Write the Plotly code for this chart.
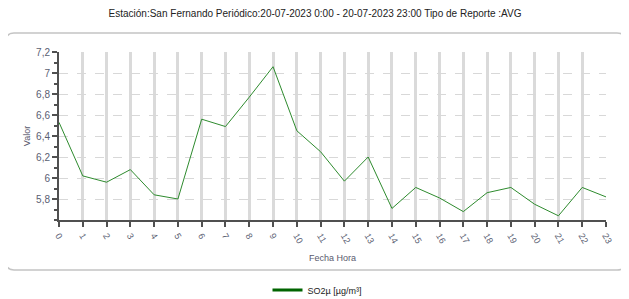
import plotly.graph_objects as go

hours = list(range(24))
so2_values = [6.53, 6.02, 5.96, 6.08, 5.84, 5.80, 6.56, 6.49, 6.77, 7.06, 6.45, 6.25,
              5.97, 6.20, 5.71, 5.91, 5.81, 5.68, 5.86, 5.91, 5.75, 5.64, 5.91, 5.82]
y_tick_values = [5.8, 6.0, 6.2, 6.4, 6.6, 6.8, 7.0, 7.2]
y_tick_labels = ["5,8", "6", "6,2", "6,4", "6,6", "6,8", "7", "7,2"]
x_tick_labels = [str(h) for h in hours]
series_name = "SO2µ [µg/m³]"
title_text = "Estación:San Fernando Periódico:20-07-2023 0:00 - 20-07-2023 23:00 Tipo de Reporte :AVG"

OFF = 8  # page body margin
W, H = 629 - OFF, 299 - OFF
L, R, T, B = 59 - OFF, 606 - OFF, 52 - OFF, 220 - OFF

def px(x):
    return (x - OFF - L) / (R - L)

def py(y):
    return (B - (y - OFF)) / (B - T)

fig = go.Figure()
fig.add_trace(go.Scatter(x=hours, y=so2_values, mode="lines",
                         line=dict(color="#2e8b2e", width=1), showlegend=False))
fig.add_trace(go.Scatter(x=[None], y=[None], mode="lines", name=series_name,
                         line=dict(color="#006400", width=3), showlegend=True))

# rounded frame (reference pixel coords)
x0, x1, y0, y1, r = 6, 625, 33, 270, 8
path = (f"M {px(x0+r)},{py(y0)} L {px(x1-r)},{py(y0)} Q {px(x1)},{py(y0)} {px(x1)},{py(y0+r)} "
        f"L {px(x1)},{py(y1-r)} Q {px(x1)},{py(y1)} {px(x1-r)},{py(y1)} "
        f"L {px(x0+r)},{py(y1)} Q {px(x0)},{py(y1)} {px(x0)},{py(y1-r)} "
        f"L {px(x0)},{py(y0+r)} Q {px(x0)},{py(y0)} {px(x0+r)},{py(y0)} Z")
fig.add_shape(type="path", path=path, xref="paper", yref="paper",
              line=dict(color="#c4c4c4", width=1.5), layer="below")

font_family = "Liberation Sans, Arial, sans-serif"
fig.update_layout(
    width=W, height=H,
    margin=dict(l=L, r=W - R, t=T, b=H - B, autoexpand=False),
    paper_bgcolor="white", plot_bgcolor="white",
    separators=",.",
    font=dict(family=font_family, size=10, color="#5a6072"),
    title=dict(text=title_text, x=(315 - OFF) / W, xref="container", xanchor="center",
               y=1 - (13 - OFF) / H, yref="container", yanchor="middle",
               font=dict(size=10, color="#222222", family=font_family)),
    showlegend=True,
    legend=dict(orientation="h", x=px(317), xanchor="center", xref="paper",
                y=py(290), yanchor="middle", font=dict(size=9, color="#222222"),
                bgcolor="rgba(0,0,0,0)"),
    xaxis=dict(
        range=[0, 23], tickmode="array", tickvals=hours, ticktext=x_tick_labels,
        tickangle=60, ticks="outside", ticklen=5, tickwidth=1.5, tickcolor="#505050",
        showline=True, linecolor="#505050", linewidth=2, automargin=False,
        showgrid=True, gridcolor="#dadada", gridwidth=3,
        zeroline=False, tickfont=dict(size=9, color="#5a6072"),
        title=dict(text="Fecha Hora", standoff=10, font=dict(size=9, color="#5a5a6e")),
    ),
    yaxis=dict(
        range=[5.6, 7.2], tickmode="array", tickvals=y_tick_values, ticktext=y_tick_labels,
        ticks="outside", ticklen=5, tickwidth=1.5, tickcolor="#505050",
        showline=True, linecolor="#505050", linewidth=2, automargin=False,
        showgrid=True, gridcolor="#d8d8d8", gridwidth=1, griddash="dash",
        minor=dict(dtick=0.1, tick0=5.6, ticks="outside", ticklen=3, tickcolor="#505050", showgrid=False),
        zeroline=False, tickfont=dict(size=10, color="#5a6072"),
        title=dict(text="Valor", standoff=4, font=dict(size=9, color="#5a5a6e")),
    ),
)

fig.write_html("out.html")
